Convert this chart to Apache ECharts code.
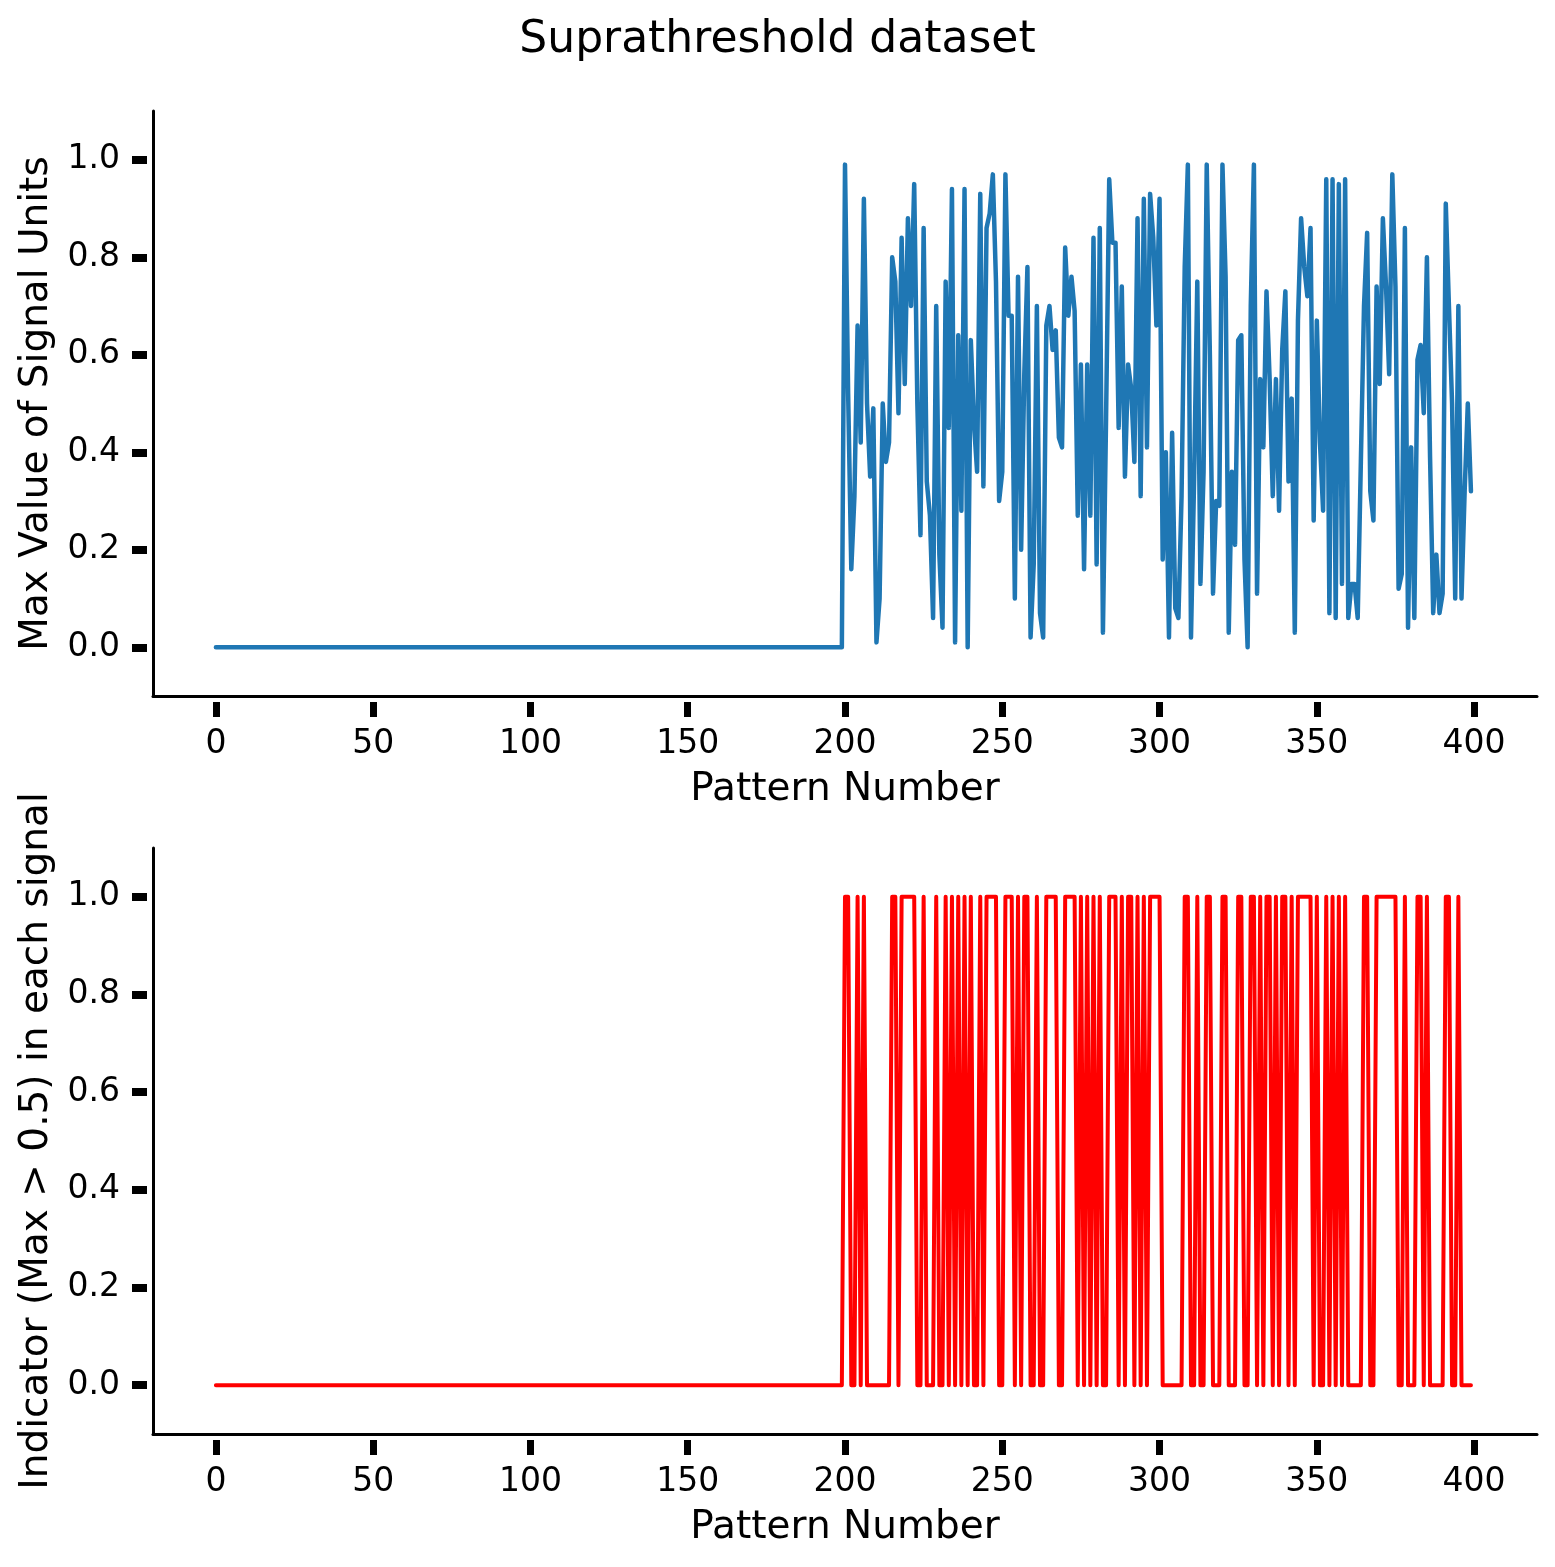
<!DOCTYPE html>
<html>
<head>
<meta charset="utf-8">
<title>Suprathreshold dataset</title>
<script src="https://cdn.jsdelivr.net/npm/echarts@6/dist/echarts.min.js"></script>
<style>
  html, body { margin: 0; padding: 0; background: #fff; }
  #chart { width: 1555px; height: 1567px; }
</style>
</head>
<body>
<div id="chart"></div>
<script>
// patterns 0-199 are sub-threshold: flat at zero
var baselineMax = new Array(200).fill(0);

// patterns 200-399, max value of signal units
var supraMaxA = [0.99, 0.52, 0.16, 0.31, 0.66, 0.42, 0.92, 0.50, 0.35, 0.49,
  0.01, 0.10, 0.50, 0.38, 0.42, 0.80, 0.75, 0.48, 0.84, 0.54,
  0.88, 0.70, 0.95, 0.50, 0.23, 0.86, 0.34, 0.27, 0.06, 0.70,
  0.19, 0.04, 0.75, 0.45, 0.94, 0.01, 0.64, 0.28, 0.94, 0.00];
var supraMaxB = [0.63, 0.46, 0.36, 0.93, 0.33, 0.86, 0.89, 0.97, 0.75, 0.30,
  0.36, 0.97, 0.68, 0.68, 0.10, 0.76, 0.20, 0.56, 0.78, 0.02,
  0.17, 0.70, 0.07, 0.02, 0.66, 0.70, 0.61, 0.65, 0.43, 0.41,
  0.82, 0.68, 0.76, 0.69, 0.27, 0.58, 0.16, 0.58, 0.27, 0.84];
var supraMaxC = [0.17, 0.86, 0.03, 0.47, 0.96, 0.83, 0.83, 0.45, 0.74, 0.35,
  0.58, 0.53, 0.38, 0.88, 0.31, 0.92, 0.41, 0.93, 0.84, 0.66,
  0.92, 0.18, 0.40, 0.02, 0.44, 0.08, 0.06, 0.31, 0.78, 0.99,
  0.02, 0.35, 0.75, 0.13, 0.36, 0.99, 0.60, 0.11, 0.30, 0.29];
var supraMaxD = [0.99, 0.76, 0.03, 0.36, 0.21, 0.63, 0.64, 0.18, 0.00, 0.70,
  0.99, 0.11, 0.55, 0.41, 0.73, 0.55, 0.31, 0.55, 0.28, 0.61,
  0.73, 0.34, 0.51, 0.03, 0.67, 0.88, 0.78, 0.72, 0.86, 0.26,
  0.67, 0.42, 0.28, 0.96, 0.07, 0.96, 0.06, 0.95, 0.13, 0.96];
var supraMaxE = [0.06, 0.13, 0.13, 0.06, 0.38, 0.70, 0.85, 0.32, 0.26, 0.74,
  0.54, 0.88, 0.74, 0.56, 0.97, 0.74, 0.12, 0.15, 0.86, 0.04,
  0.41, 0.06, 0.59, 0.62, 0.48, 0.80, 0.39, 0.07, 0.19, 0.07,
  0.11, 0.91, 0.70, 0.50, 0.10, 0.70, 0.10, 0.32, 0.50, 0.32];

// indicator (max > 0.5) for patterns 200-399
var supraIndA = [1,1,0,0,1,0,1,0,0,0, 0,0,0,0,0,1,1,0,1,1, 1,1,1,0,0,1,0,0,0,1, 0,0,1,0,1,0,1,0,1,0];
var supraIndB = [1,0,0,1,0,1,1,1,1,0, 0,1,1,1,0,1,0,1,1,0, 0,1,0,0,1,1,1,1,0,0, 1,1,1,1,0,1,0,1,0,1];
var supraIndC = [0,1,0,0,1,1,1,0,1,0, 1,1,0,1,0,1,0,1,1,1, 1,0,0,0,0,0,0,0,1,1, 0,0,1,0,0,1,1,0,0,0];
var supraIndD = [1,1,0,0,0,1,1,0,0,1, 1,0,1,0,1,1,0,1,0,1, 1,0,1,0,1,1,1,1,1,0, 1,0,0,1,0,1,0,1,0,1];
var supraIndE = [0,0,0,0,0,1,1,0,0,1, 1,1,1,1,1,1,0,0,1,0, 0,0,1,1,0,1,0,0,0,0, 0,1,1,0,0,1,0,0,0,0];
var baselineInd = new Array(200).fill(0);

// tick labels
var xTicks = [0, 50, 100, 150, 200, 250, 300, 350, 400];
var yTicks = [0, 0.2, 0.4, 0.6, 0.8, 1.0];

var maxValues = baselineMax.concat(supraMaxA, supraMaxB, supraMaxC, supraMaxD, supraMaxE);
var indicators = baselineInd.concat(supraIndA, supraIndB, supraIndC, supraIndD, supraIndE);

function toPairs(vals) {
  var out = [];
  for (var i = 0; i < vals.length; i++) {
    out.push([i, vals[i]]);
  }
  return out;
}

var FONT = 'DejaVu Sans';

// one axis for the spine, a second one shifted out a little for ticks + labels
// (label margin is counted from the axis line, so it includes the tick length)
function xAxes(gridIndex) {
  var base = { type: 'value', gridIndex: gridIndex, min: -20, max: 420, position: 'bottom', splitLine: { show: false } };
  return [
    Object.assign({}, base, {
      axisLine: { show: true, onZero: false, lineStyle: { color: '#000', width: 3 } },
      axisTick: { show: false },
      axisLabel: { show: false }
    }),
    Object.assign({}, base, {
      offset: 6,
      axisLine: { show: false, onZero: false },
      axisTick: { show: true, length: 15, customValues: xTicks, lineStyle: { color: '#000', width: 7 } },
      axisLabel: { show: true, customValues: xTicks, margin: 26, fontFamily: FONT, fontSize: 33, color: '#000' },
      name: 'Pattern Number',
      nameLocation: 'middle',
      nameGap: 68,
      nameTextStyle: { fontFamily: FONT, fontSize: 39, color: '#000' }
    })
  ];
}

function yAxes(gridIndex, title) {
  var base = { type: 'value', gridIndex: gridIndex, min: -0.1, max: 1.1, position: 'left', splitLine: { show: false } };
  return [
    Object.assign({}, base, {
      axisLine: { show: true, onZero: false, lineStyle: { color: '#000', width: 3 } },
      axisTick: { show: false },
      axisLabel: { show: false }
    }),
    Object.assign({}, base, {
      offset: 6,
      axisLine: { show: false, onZero: false },
      axisTick: { show: true, length: 15, customValues: yTicks, lineStyle: { color: '#000', width: 8 } },
      axisLabel: {
        show: true, customValues: yTicks, margin: 27, fontFamily: FONT, fontSize: 33, color: '#000',
        formatter: function (v) { return v.toFixed(1); }
      },
      name: title,
      nameLocation: 'middle',
      nameGap: 90,
      nameTextStyle: { fontFamily: FONT, fontSize: 39, color: '#000' }
    })
  ];
}

var chart = echarts.init(document.getElementById('chart'));

chart.setOption({
  animation: false,
  backgroundColor: '#fff',
  title: {
    text: 'Suprathreshold dataset',
    left: 'center',
    top: 14,
    textStyle: { fontFamily: FONT, fontSize: 44, fontWeight: 'normal', color: '#000' }
  },
  grid: [
    { left: 153, right: 18, top: 111, height: 585 },
    { left: 153, right: 18, top: 848, height: 586 }
  ],
  xAxis: xAxes(0).concat(xAxes(1)),
  yAxis: yAxes(0, 'Max Value of Signal Units').concat(yAxes(1, 'Indicator (Max > 0.5) in each signal')),
  series: [
    {
      type: 'line',
      xAxisIndex: 0,
      yAxisIndex: 0,
      data: toPairs(maxValues),
      showSymbol: false,
      lineStyle: { color: '#1f77b4', width: 4.5, cap: 'round', join: 'round' }
    },
    {
      type: 'line',
      xAxisIndex: 2,
      yAxisIndex: 2,
      data: toPairs(indicators),
      showSymbol: false,
      lineStyle: { color: '#ff0000', width: 4, cap: 'round', join: 'round' }
    }
  ]
});
</script>
</body>
</html>
